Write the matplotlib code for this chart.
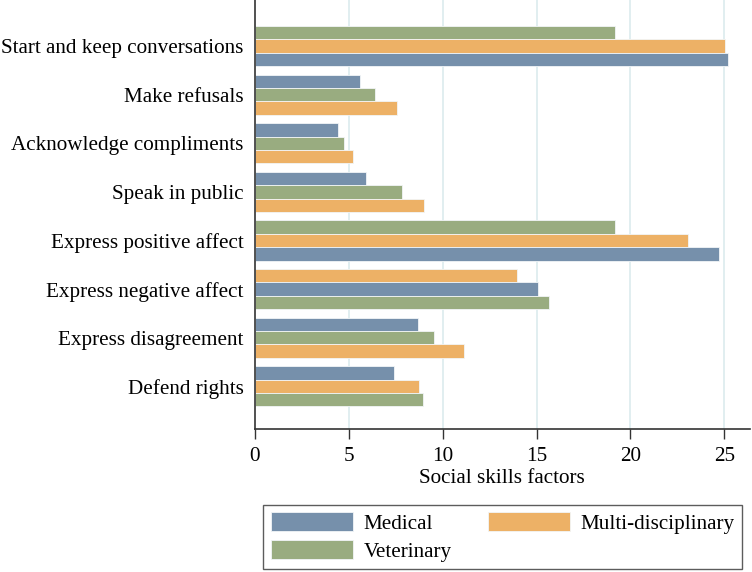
import numpy as np
import matplotlib.pyplot as plt

categories = [
    "Start and keep conversations",
    "Make refusals",
    "Acknowledge compliments",
    "Speak in public",
    "Express positive affect",
    "Express negative affect",
    "Express disagreement",
    "Defend rights",
]
series = ["Medical", "Multi-disciplinary", "Veterinary"]
medical = [25.2, 5.6, 4.4, 5.9, 24.7, 15.1, 8.7, 7.4]
multi = [25.05, 7.55, 5.2, 9.0, 23.05, 13.95, 11.15, 8.75]
veterinary = [19.2, 6.4, 4.75, 7.85, 19.15, 15.65, 9.55, 8.95]
xticks = [0, 5, 10, 15, 20, 25]

colors = {"Medical": "#7690AB", "Multi-disciplinary": "#EDB166",
          "Veterinary": "#99AC80"}

plt.rcParams['font.family'] = ['Liberation Serif', 'DejaVu Serif']
fs = 15.2

fig = plt.figure(figsize=(7.52, 5.72), dpi=100)
ax = fig.add_axes([0.339, 0.25, 0.658, 0.75])

values = np.array([medical, multi, veterinary])
bar_h = 0.275
handles = {}
for i in range(len(categories)):
    order = np.argsort(values[:, i])  # smallest bar on top
    for rank, s in enumerate(order):
        name = series[s]
        b = ax.barh(i + (rank - 1) * bar_h, values[s, i], height=bar_h,
                    color=colors[name], edgecolor='#F2F5F7', linewidth=0.6,
                    zorder=2)
        handles[name] = b

ax.set_yticks(range(len(categories)))
ax.set_yticklabels(categories, fontsize=fs)
ax.set_ylim(7.88, -0.95)
ax.set_xlim(0, 26.35)
ax.set_xticks(xticks)
ax.tick_params(axis='x', labelsize=fs, length=7, width=1, color='#333333',
               pad=6)
ax.tick_params(axis='y', length=0, pad=8)
ax.set_xlabel("Social skills factors", fontsize=fs, labelpad=2)

for x in xticks[1:]:
    ax.axvline(x, color='#DCEBEE', lw=1.2, zorder=1)

for side in ['top', 'right']:
    ax.spines[side].set_visible(False)
for side in ['left', 'bottom']:
    ax.spines[side].set_color('#333333')
    ax.spines[side].set_linewidth(1.2)
    ax.spines[side].set_zorder(4)

leg = fig.legend([handles["Medical"], handles["Veterinary"],
                  handles["Multi-disciplinary"]],
                 ["Medical", "Veterinary", "Multi-disciplinary"],
                 ncol=2, loc='lower left', mode='expand',
                 bbox_to_anchor=(0.35, 0.005, 0.637, 0.119),
                 fontsize=fs, frameon=True, fancybox=False,
                 edgecolor='#333333', handlelength=3.9, handleheight=1.0,
                 handletextpad=0.5, borderaxespad=0, labelspacing=0.3,
                 borderpad=0.35)
leg.get_frame().set_linewidth(1.0)

fig.savefig("out.png", dpi=100)
